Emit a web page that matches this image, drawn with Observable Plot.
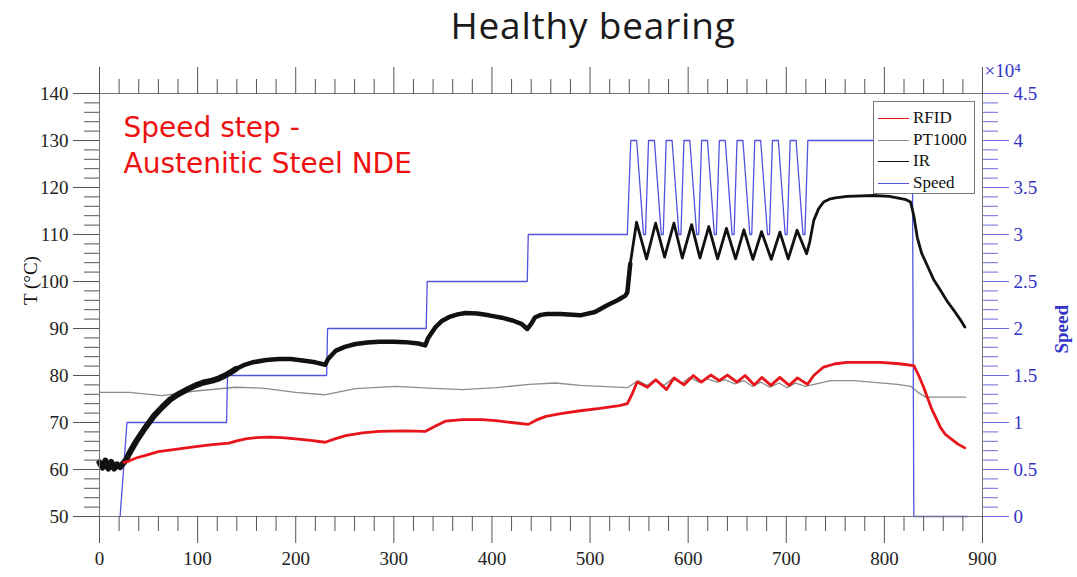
<!DOCTYPE html>
<html>
<head>
<meta charset="utf-8">
<script src="https://cdn.jsdelivr.net/npm/d3@7"></script>
<script src="https://cdn.jsdelivr.net/npm/@observablehq/plot@0.6"></script>
<style>
  body { margin: 0; background: #fff; }
  #wrap { position: relative; width: 1077px; height: 577px; overflow: hidden; }
  #title { position: absolute; left: 393px; top: 0; width: 400px; height: 50px; line-height: 50px;
           font-family: "Open Sans", sans-serif; font-size: 37px; letter-spacing: 0.8px; color: #1a1a1a; text-align: center; white-space: nowrap; }
  #chart { padding-top: 48px; }
  #legend { position: absolute; left: 873px; top: 101px; width: 102px; height: 93px; border: 1px solid #777;
            background: #fff; box-sizing: border-box; font-family: "Liberation Serif", serif; font-size: 17px; color: #111; }
  .row { position: absolute; left: 4px; height: 20px; }
  .row span.ln { position: absolute; left: 0; top: 10px; width: 31px; border-top: 1px solid; }
  .row span.tx { position: absolute; left: 35px; top: 0; line-height: 20px; white-space: nowrap; }
</style>
</head>
<body>
<div id="wrap">
  <div id="chart"></div>
  <div id="title">Healthy bearing</div>
  <div id="legend"></div>
</div>
<script>
// ---- data (time in s) ----
const irT = [0, 3, 6, 9, 12, 15, 18, 21, 24, 27, 30, 38, 47, 55, 64, 72, 81, 90, 98, 106, 115, 122, 128, 133, 139, 147, 156, 170, 183, 195, 207, 220, 230, 233, 241, 250, 261, 273, 285, 300, 312, 325, 332, 335, 342.5, 349, 356, 365, 373, 385, 397, 410, 421, 430, 436, 440, 444, 450, 456, 470, 490, 505, 517, 528, 536, 538,
  541, 547.4, 557.6, 566.8, 576, 585.5, 594, 603.5, 612, 621, 630, 639, 648.3, 656.8, 666, 674.8, 684.7, 693.5, 702, 711, 720.7,
  724, 728, 733, 738, 745, 750, 762, 789, 805, 813, 822, 826.7, 830, 833.5, 838, 843.7, 850, 857.3, 864, 871, 877, 882];
const irV = [61.5, 60.4, 61.9, 60.2, 61.6, 60.2, 61.1, 60.5, 61.3, 62.0, 63.3, 66.2, 69.0, 71.3, 73.3, 74.9, 76.1, 77.1, 77.9, 78.5, 78.9, 79.4, 80.0, 80.6, 81.4, 82.2, 82.8, 83.3, 83.5, 83.5, 83.2, 82.8, 82.3, 83.5, 85.3, 86.1, 86.7, 87.0, 87.2, 87.2, 87.1, 86.8, 86.4, 88.0, 90.3, 91.6, 92.4, 93.0, 93.3, 93.2, 92.8, 92.3, 91.7, 91.0, 89.9, 91.0, 92.4, 92.9, 93.1, 93.1, 92.8, 93.5, 94.9, 96.0, 97.0, 97.7,
  103.8, 112.6, 104.8, 112.4, 105.2, 112.4, 105.0, 112.1, 105.0, 111.7, 104.8, 111.3, 104.8, 111.0, 104.7, 110.6, 104.7, 110.5, 104.8, 110.9, 105.9,
  108.5, 113.0, 115.5, 116.9, 117.6, 117.8, 118.1, 118.3, 118.1, 117.8, 117.4, 116.9, 114.0, 109.4, 106.0, 103.4, 100.5, 98.1, 95.8, 93.8, 92.0, 90.3];

const rfidT = [25, 30, 38, 47, 60, 81, 100, 115, 132, 140, 149, 160, 173, 186, 200, 215, 230, 240, 251, 268, 285, 310, 332, 342, 353, 370, 390, 404, 420, 437, 445, 455, 470, 490, 510, 530, 538,
  543, 548, 558.5, 567, 578, 585.6, 595.7, 605.3, 613.4, 623, 631.7, 640, 649.7, 658, 667.4, 675, 684.4, 693.4, 703, 711.4, 721.6,
  728, 738, 750, 762, 796, 815, 830, 835, 840, 848, 857, 862, 868, 875, 882];
const rfidV = [61.5, 61.8, 62.5, 63.0, 63.8, 64.4, 64.9, 65.3, 65.6, 66.1, 66.5, 66.8, 66.9, 66.8, 66.5, 66.2, 65.8, 66.5, 67.2, 67.8, 68.1, 68.2, 68.1, 69.2, 70.3, 70.6, 70.6, 70.4, 70.0, 69.6, 70.5, 71.3, 71.9, 72.5, 73.0, 73.6, 74.0,
  76.1, 78.6, 77.5, 79.1, 77.0, 79.5, 78.0, 80.0, 78.6, 80.1, 78.9, 80.1, 78.6, 80.0, 78.0, 79.6, 77.9, 79.6, 77.9, 79.5, 78.1,
  80.0, 81.8, 82.5, 82.8, 82.8, 82.5, 82.1, 80.0, 77.5, 73.0, 69.0, 67.5, 66.5, 65.4, 64.6];

const ptT = [0, 30, 64, 98, 139, 166, 200, 229, 261, 302, 336, 370, 404, 438, 465, 490, 538, 548.7, 558.3, 565, 575.3, 583.8, 594, 601.7, 611, 619.4, 629.6, 638, 647.3, 656.8, 665.3, 673.8, 683.3, 692.5, 701, 709.5, 719.7, 745, 769, 813, 827, 835, 842, 883];
const ptV = [76.4, 76.4, 75.7, 76.7, 77.5, 77.3, 76.4, 75.9, 77.2, 77.7, 77.3, 77.0, 77.4, 78.1, 78.4, 77.9, 77.4, 78.9, 77.9, 79.0, 77.9, 79.3, 78.4, 79.6, 78.6, 79.3, 78.6, 79.1, 78.2, 78.9, 77.7, 78.6, 77.5, 78.4, 77.4, 78.4, 77.7, 78.9, 78.9, 78.1, 77.7, 76.3, 75.4, 75.4];

const spT = [21, 28, 129.5, 130.5, 231.5, 232.5, 333, 334, 436, 437, 538, 541.5,
  547.5, 554.5, 556.5, 559.6, 565.6, 572.6, 574.6, 577.6, 583.6, 590.6, 592.6, 595.7,
  601.7, 608.7, 610.7, 613.7, 619.7, 626.7, 628.7, 631.8, 637.8, 644.8, 646.8, 649.8,
  655.8, 662.8, 664.8, 667.9, 673.9, 680.9, 682.9, 685.9, 691.9, 698.9, 700.9, 704.0,
  710.0, 717.0, 719.0, 722.0, 828.5, 830, 885];
const spV = [0, 10000, 10000, 15000, 15000, 20000, 20000, 25000, 25000, 30000, 30000, 40000,
  40000, 30000, 30000, 40000, 40000, 30000, 30000, 40000, 40000, 30000, 30000, 40000,
  40000, 30000, 30000, 40000, 40000, 30000, 30000, 40000, 40000, 30000, 30000, 40000,
  40000, 30000, 30000, 40000, 40000, 30000, 30000, 40000, 40000, 30000, 30000, 40000,
  40000, 30000, 30000, 40000, 40000, 0, 0];

const xTicks = [0, 100, 200, 300, 400, 500, 600, 700, 800, 900];
const yTicks = [50, 60, 70, 80, 90, 100, 110, 120, 130, 140];
const speedTicks = [0, 5000, 10000, 15000, 20000, 25000, 30000, 35000, 40000, 45000];
const speedTickLabels = ["0", "0.5", "1", "1.5", "2", "2.5", "3", "3.5", "4", "4.5"];

const seriesNames = ["RFID", "PT1000", "IR", "Speed"];
const seriesColors = ["#e8141b", "#8c8c8c", "#111111", "#5252e0"];
const noteLines = ["Speed step -", "Austenitic Steel NDE"];

// ---- build ----
const zip = (T, V) => T.map((t, i) => ({t, v: V[i]}));
const ir = zip(irT, irV), rfid = zip(rfidT, rfidV), pt = zip(ptT, ptV), sp = zip(spT, spV);

const speedMax = 45000;
const yMin = 50, yMax = 140;
const sToY = s => yMin + s / speedMax * (yMax - yMin);

const xMinor = d3.range(0, 901, 20).filter(v => v % 100 !== 0);
const yMinor = d3.range(50, 141, 2).filter(v => v % 10 !== 0);
const spMinor = d3.range(0, 45001, 1000).filter(v => v % 5000 !== 0).map(sToY);
const spMajorY = speedTicks.map(sToY);
const blue = "#3434c8";
const tickCol = "#555";
const none = () => "";
const noteFont = "DejaVu Sans, sans-serif";

const chart = Plot.plot({
  width: 1077, height: 529,
  marginTop: 45, marginLeft: 99, marginRight: 95, marginBottom: 61,
  x: {domain: [0, 900]},
  y: {domain: [yMin, yMax]},
  style: {fontFamily: "Liberation Serif, serif", fontSize: "19px", background: "white", color: "#222"},
  marks: [
    // data
    Plot.line(pt, {x: "t", y: "v", stroke: seriesColors[1], strokeWidth: 1.3}),
    Plot.line(sp, {x: "t", y: d => sToY(d.v), stroke: seriesColors[3], strokeWidth: 1.3}),
    Plot.line(ir.filter(d => d.t <= 140), {x: "t", y: "v", stroke: seriesColors[2], strokeWidth: 6}),
    Plot.line(ir.filter(d => d.t >= 139 && d.t <= 541), {x: "t", y: "v", stroke: seriesColors[2], strokeWidth: 4.5}),
    Plot.line(ir.filter(d => d.t >= 538), {x: "t", y: "v", stroke: seriesColors[2], strokeWidth: 2.8}),
    Plot.line(rfid, {x: "t", y: "v", stroke: seriesColors[0], strokeWidth: 2.8}),
    Plot.frame({stroke: "#777"}),
    // axes
    Plot.axisX({anchor: "bottom", ticks: xTicks, tickSize: 27, tickPadding: 8, stroke: tickCol, label: null}),
    Plot.axisX({anchor: "bottom", ticks: xMinor, tickSize: 15, tickFormat: none, stroke: tickCol, label: null}),
    Plot.axisX({anchor: "top", ticks: xTicks, tickSize: 27, tickFormat: none, stroke: tickCol, label: null}),
    Plot.axisX({anchor: "top", ticks: xMinor, tickSize: 15, tickFormat: none, stroke: tickCol, label: null}),
    Plot.axisY({anchor: "left", ticks: yTicks, tickSize: 26, tickPadding: 5, stroke: tickCol, label: null}),
    Plot.axisY({anchor: "left", ticks: yMinor, tickSize: 15, tickFormat: none, stroke: tickCol, label: null}),
    Plot.axisY({anchor: "right", ticks: spMajorY, tickSize: 26, tickPadding: 5,
      tickFormat: d => speedTickLabels[spMajorY.indexOf(d)], stroke: "#6b6be0", fill: blue, label: null}),
    Plot.axisY({anchor: "right", ticks: spMinor, tickSize: 15, tickFormat: none, stroke: "#6b6be0", label: null}),
    // labels
    Plot.text(["T (°C)"], {frameAnchor: "left", rotate: -90, dx: -69, fontSize: 19, fill: "#111"}),
    Plot.text(["Speed"], {frameAnchor: "right", rotate: -90, dx: 79, fontSize: 19, fill: blue, fontWeight: "bold"}),
    Plot.text(["×10⁴"], {frameAnchor: "top-right", dx: 2, dy: -30, textAnchor: "start", fontSize: 19, fill: blue}),
    Plot.text([noteLines[0]], {frameAnchor: "top-left", dx: 24, dy: 35, textAnchor: "start",
      lineAnchor: "middle", fontSize: 28, fontFamily: noteFont, fill: "#ee1111"}),
    Plot.text([noteLines[1]], {frameAnchor: "top-left", dx: 24, dy: 71, textAnchor: "start",
      lineAnchor: "middle", fontSize: 28, fontFamily: noteFont, fill: "#ee1111"})
  ]
});
document.getElementById("chart").appendChild(chart);

// legend
const lg = document.getElementById("legend");
seriesNames.forEach((n, i) => {
  const r = document.createElement("div");
  r.className = "row";
  r.style.top = (6 + i * 21.5) + "px";
  r.innerHTML = `<span class="ln" style="border-color:${seriesColors[i]}"></span><span class="tx">${n}</span>`;
  lg.appendChild(r);
});
</script>
</body>
</html>
